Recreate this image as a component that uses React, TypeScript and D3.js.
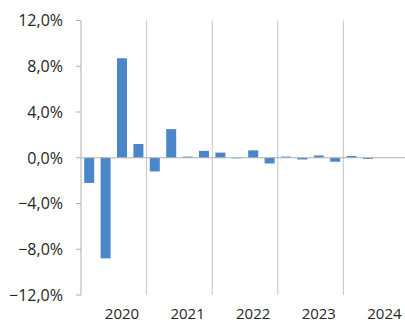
import React from 'react';
import * as d3 from 'd3';

// quarterly change, 2020 Q1 .. 2024 Q2 (the rest of 2024 is still empty)
const years = ['2020', '2021', '2022', '2023', '2024'];
const quarters = ['Q1', 'Q2', 'Q3', 'Q4'];
const values = [
  -2.2, -8.8, 8.7, 1.2,
  -1.2, 2.5, 0.1, 0.6,
  0.45, -0.05, 0.65, -0.5,
  0.1, -0.15, 0.2, -0.35,
  0.15, -0.1,
];
const yTicks = [12, 8, 4, 0, -4, -8, -12];

const W = 405;
const H = 322;
const margin = { left: 81, top: 20.5, bottom: 27 };
const slot = 16.4;

export default function App() {
  const cats = years.flatMap(y => quarters.map(q => `${y} ${q}`));

  const x = d3
    .scaleBand()
    .domain(cats)
    .range([margin.left, margin.left + cats.length * slot])
    .padding(0);
  const y = d3
    .scaleLinear()
    .domain([-12, 12])
    .range([H - margin.bottom, margin.top]);

  const barW = x.bandwidth() * 0.61;
  const fmt = (v: number) => d3.format('.1f')(v).replace('.', ',') + '%';
  const font = '"Open Sans", sans-serif';

  return (
    <svg
      width={W}
      height={H}
      viewBox={`0 0 ${W} ${H}`}
      style={{ position: 'absolute', left: 0, top: 0, background: '#fff' }}
    >
      {/* year separators */}
      {years.map((yr, i) =>
        i === 0 ? null : (
          <line
            key={yr}
            x1={x(`${yr} Q1`)}
            x2={x(`${yr} Q1`)}
            y1={y(12)}
            y2={y(-12)}
            stroke="#c4c4c4"
            strokeWidth={1}
          />
        )
      )}

      {/* y axis */}
      <line x1={margin.left} x2={margin.left} y1={y(12)} y2={y(-12)} stroke="#b0b0b0" />
      {yTicks.map(t => (
        <g key={t}>
          <line x1={margin.left - 5} x2={margin.left} y1={y(t)} y2={y(t)} stroke="#b0b0b0" />
          <text
            x={63}
            y={y(t)}
            dy="0.36em"
            textAnchor="end"
            fontFamily={font}
            fontSize={16}
            fill="#262626"
          >
            {fmt(t)}
          </text>
        </g>
      ))}

      {/* bars */}
      {values.map((v, i) => (
        <rect
          key={cats[i]}
          x={(x(cats[i]) as number) + (x.bandwidth() - barW) / 2}
          y={y(Math.max(0, v))}
          width={barW}
          height={Math.abs(y(v) - y(0))}
          fill="#4a86c8"
        />
      ))}

      {/* zero line */}
      <line x1={margin.left} x2={W} y1={y(0)} y2={y(0)} stroke="#b0b0b0" />

      {/* year labels, sitting under the third quarter */}
      {years.map(yr => (
        <text
          key={yr}
          x={(x(`${yr} Q3`) as number) + x.bandwidth() / 2}
          y={H - 3}
          textAnchor="middle"
          fontFamily={font}
          fontSize={15}
          fill="#262626"
        >
          {yr}
        </text>
      ))}
    </svg>
  );
}
